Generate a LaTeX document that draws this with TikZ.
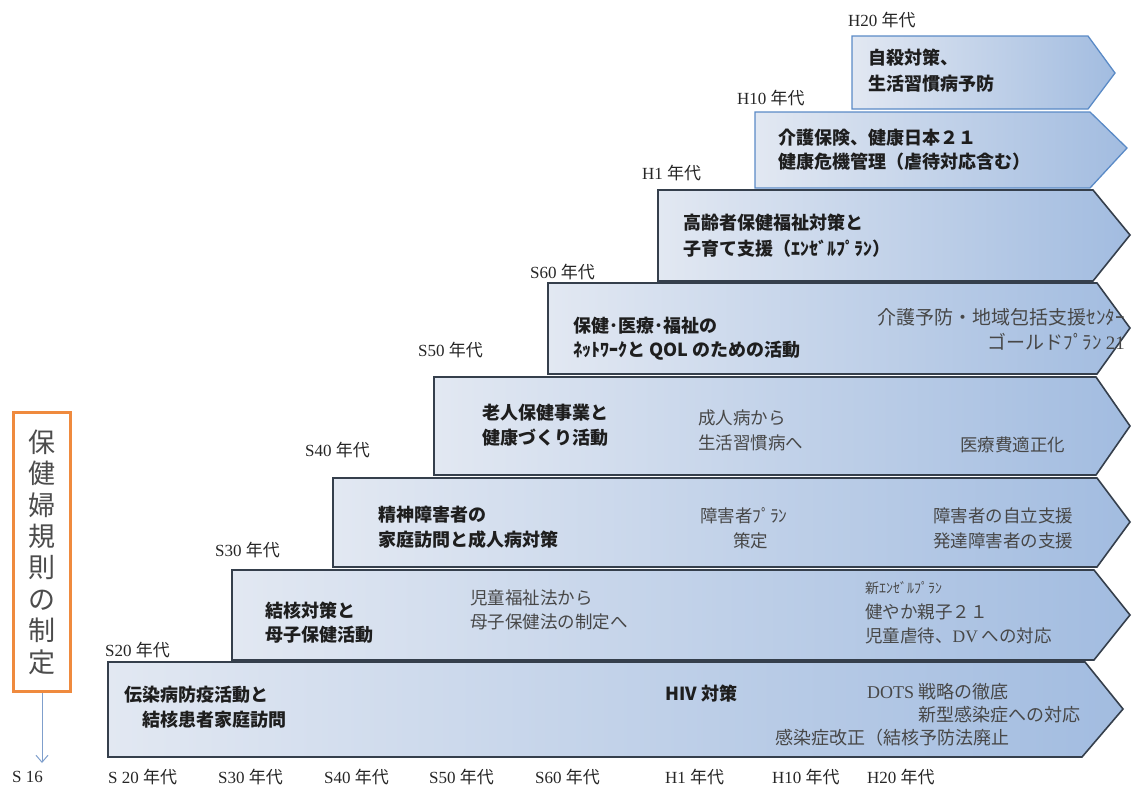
\documentclass[tikz,border=0pt]{standalone}
\usepackage{fontspec}
\usetikzlibrary{arrows.meta}
\setmainfont{Liberation Serif}
\newfontfamily\cjk{Noto Sans CJK JP}
\definecolor{boxline}{HTML}{353F4C}
\definecolor{boxblue}{HTML}{5A8AC6}
\definecolor{fillL}{HTML}{E2E8F2}
\definecolor{fillR}{HTML}{A2BCE0}
\definecolor{txtdark}{HTML}{1E1E1E}
\definecolor{txtgray}{HTML}{474747}
\definecolor{orangeline}{HTML}{EF8A3E}
\definecolor{arrowblue}{HTML}{7F9FCC}
\tikzset{
  arrowbox/.style={draw=boxline, line width=1.6pt, line join=miter, left color=fillL, right color=fillR},
  arrowboxb/.style={arrowbox, draw=boxblue, line width=1.3pt},
  bt/.style={font=\cjk\bfseries\fontsize{18}{20}\selectfont, text=txtdark, inner sep=0pt, anchor=west},
  rt/.style={font=\cjk\fontsize{17.5}{20}\selectfont, text=txtgray, inner sep=0pt, anchor=west},
  rtl/.style={rt, font=\cjk\fontsize{18}{20}\selectfont},
  rtb/.style={rt, font=\cjk\fontsize{19}{21}\selectfont},
  rts/.style={rt, font=\cjk\fontsize{14}{16}\selectfont},
  lab/.style={font=\fontsize{17}{19}\selectfont, text=black!85, inner sep=0pt, anchor=west},
  vt/.style={font=\cjk\fontsize{27}{31.4}\selectfont, text=black!70, align=center},
}
\newcommand\nd{{\cjk 年代}}
\begin{document}
\begin{tikzpicture}[x=1pt,y=-1pt]
\useasboundingbox (0,0) rectangle (1133,785);
% arrows
\path[arrowbox]  (108,662) -- (1085,662) -- (1123,709) -- (1082,757) -- (108,757) -- cycle;
\path[arrowbox]  (232,570) -- (1094,570) -- (1130,615) -- (1094,660) -- (232,660) -- cycle;
\path[arrowbox]  (333,478) -- (1097,478) -- (1130,522) -- (1097,567) -- (333,567) -- cycle;
\path[arrowbox]  (434,377) -- (1096,377) -- (1130,426) -- (1096,475) -- (434,475) -- cycle;
\path[arrowbox]  (548,283) -- (1097,283) -- (1130,328) -- (1097,374) -- (548,374) -- cycle;
\path[arrowbox]  (658,190) -- (1093,190) -- (1130,235) -- (1093,281) -- (658,281) -- cycle;
\path[arrowboxb] (755,112) -- (1090,112) -- (1127,148) -- (1090,188) -- (755,188) -- cycle;
\path[arrowboxb] (852,36)  -- (1088,36)  -- (1115,73)  -- (1088,109) -- (852,109) -- cycle;
% row labels
\node[lab] (l20) at (105,650) {S20 \nd};
\node[lab] (l30) at (215,550) {S30 \nd};
\node[lab] (l40) at (305,450) {S40 \nd};
\node[lab] (l50) at (418,350) {S50 \nd};
\node[lab] (l60) at (530,272) {S60 \nd};
\node[lab] (lh1) at (642,173) {H1 \nd};
\node[lab] (lh10) at (737,98) {H10 \nd};
\node[lab] (lh20) at (848,20) {H20 \nd};
% bottom axis
\node[lab] (a16) at (12,777) {S 16};
\node[lab] (a20) at (108,777) {S 20 \nd};
\node[lab] (a30) at (218,777) {S30 \nd};
\node[lab] (a40) at (324,777) {S40 \nd};
\node[lab] (a50) at (429,777) {S50 \nd};
\node[lab] (a60) at (535,777) {S60 \nd};
\node[lab] (ah1) at (665,777) {H1 \nd};
\node[lab] (ah10) at (772,777) {H10 \nd};
\node[lab] (ah20) at (867,777) {H20 \nd};
% orange box
\node[draw=orangeline, line width=3pt, minimum width=57pt, minimum height=279pt, inner sep=0pt, vt] (rule) at (42,552) {保\\健\\婦\\規\\則\\の\\制\\定};
\coordinate (ruleend) at (42,763);
\draw[arrowblue, line width=1pt, -{Straight Barb[length=7pt,width=12pt]}] (rule.south) -- (ruleend);
% row 1
\node[bt] (t1a) at (124,695) {伝染病防疫活動と};
\node[bt] (t1b) at (142,720) {結核患者家庭訪問};
\node[bt] (t1c) at (665,694) {HIV 対策};
\node[rtl] (t1d) at (867,692) {{\rmfamily DOTS} 戦略の徹底};
\node[rtl] (t1e) at (918,715) {新型感染症への対応};
\node[rtl] (t1f) at (775,738) {感染症改正（結核予防法廃止};
% row 2
\node[bt] (t2a) at (265,611) {結核対策と};
\node[bt] (t2b) at (265,635) {母子保健活動};
\node[rt] (t2c) at (470,598) {児童福祉法から};
\node[rt] (t2d) at (470,622) {母子保健法の制定へ};
\node[rts] (t2e) at (865,588) {新ｴﾝｾﾞﾙﾌﾟﾗﾝ};
\node[rt] (t2f) at (865,612) {健やか親子２１};
\node[rt] (t2g) at (865,636) {児童虐待、{\rmfamily DV} への対応};
% row 3
\node[bt] (t3a) at (378,515) {精神障害者の};
\node[bt] (t3b) at (378,540) {家庭訪問と成人病対策};
\node[rt] (t3c) at (700,516) {障害者ﾌﾟﾗﾝ};
\node[rt] (t3d) at (733,541) {策定};
\node[rt] (t3e) at (933,516) {障害者の自立支援};
\node[rt] (t3f) at (933,541) {発達障害者の支援};
% row 4
\node[bt] (t4a) at (482,413) {老人保健事業と};
\node[bt] (t4b) at (482,438) {健康づくり活動};
\node[rt] (t4c) at (698,418) {成人病から};
\node[rt] (t4d) at (698,443) {生活習慣病へ};
\node[rt] (t4e) at (960,445) {医療費適正化};
% row 5
\node[bt] (t5a) at (573,326) {保健･医療･福祉の};
\node[bt] (t5b) at (573,351) {ﾈｯﾄﾜｰｸと QOL のための活動};
\node[rtb, anchor=east] (t5c) at (1125,317) {介護予防・地域包括支援ｾﾝﾀｰ};
\node[rtb, anchor=east] (t5d) at (1125,342) {ゴールドﾌﾟﾗﾝ {\rmfamily 21}};
% row 6
\node[bt] (t6a) at (683,223) {高齢者保健福祉対策と};
\node[bt] (t6b) at (683,249) {子育て支援（ｴﾝｾﾞﾙﾌﾟﾗﾝ）};
% row 7
\node[bt] (t7a) at (778,138) {介護保険、健康日本２１};
\node[bt] (t7b) at (778,162) {健康危機管理（虐待対応含む）};
% row 8
\node[bt] (t8a) at (868,58) {自殺対策、};
\node[bt] (t8b) at (868,84) {生活習慣病予防};
\end{tikzpicture}
\end{document}
